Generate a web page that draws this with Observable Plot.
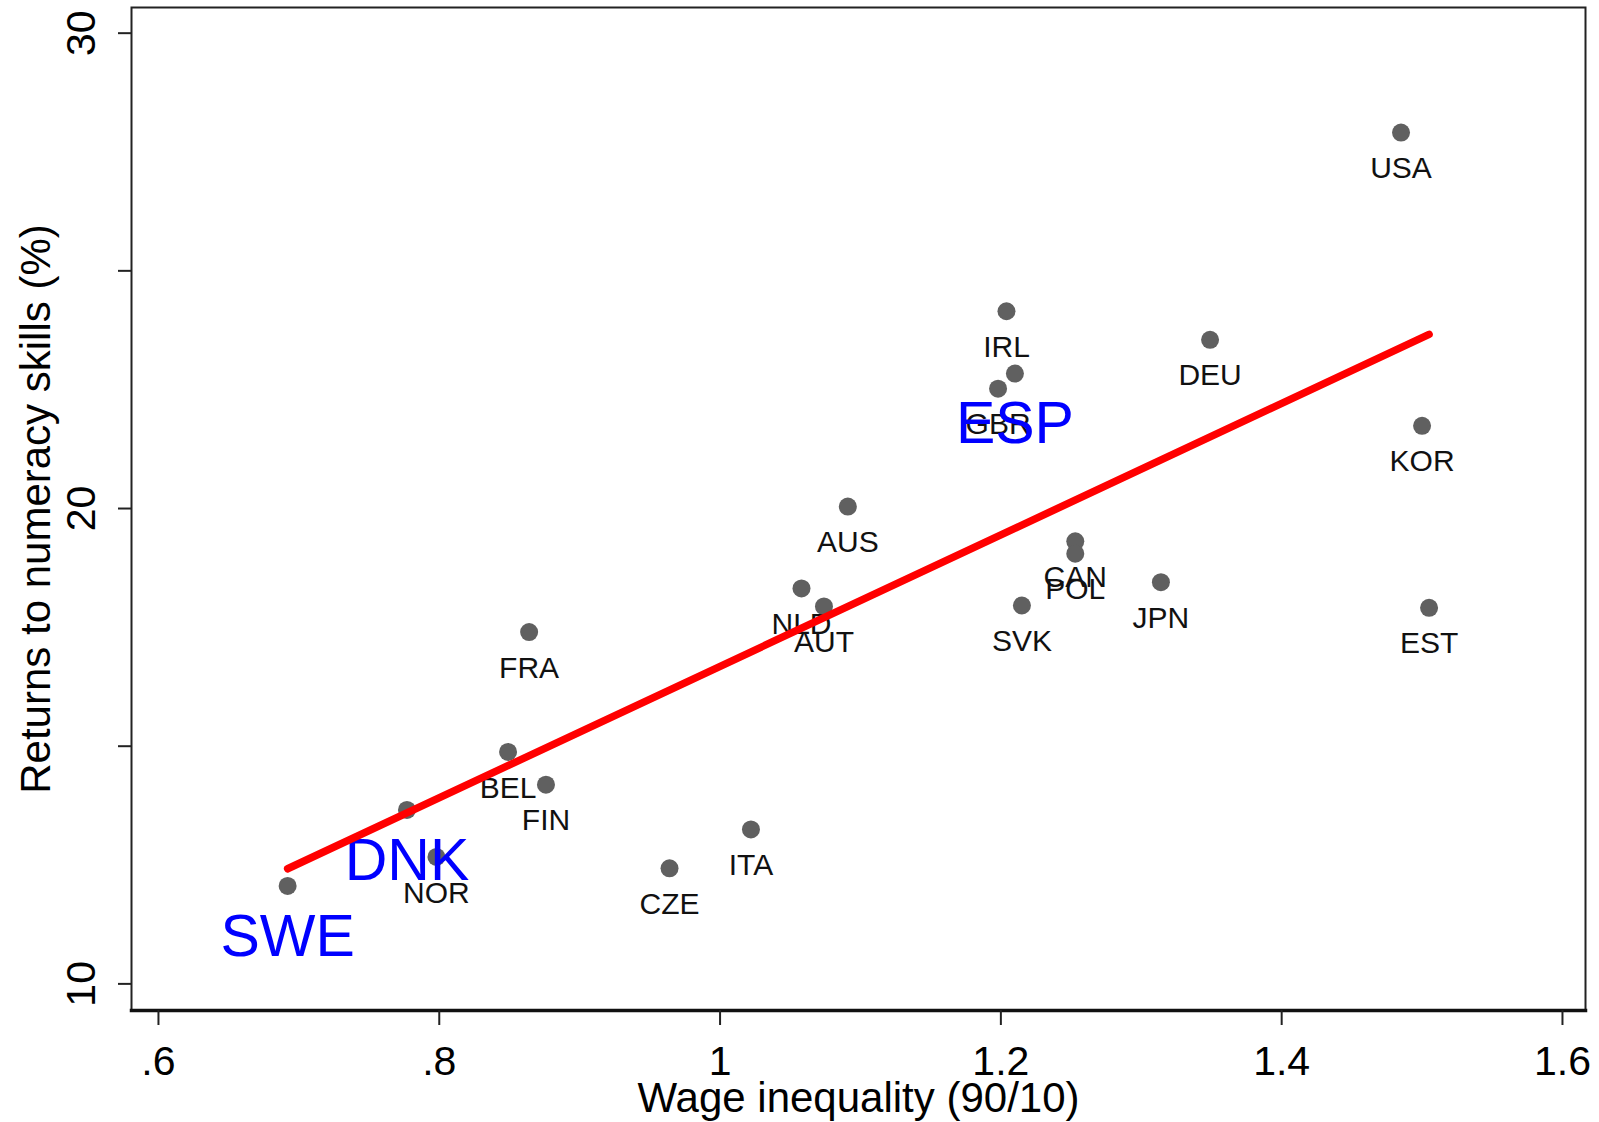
<!DOCTYPE html>
<html>
<head>
<meta charset="utf-8">
<script src="https://cdn.jsdelivr.net/npm/d3@7"></script>
<script src="https://cdn.jsdelivr.net/npm/@observablehq/plot@0.6"></script>
<style>
  html, body { margin: 0; padding: 0; background: #fff; overflow: hidden; }
  #chart svg { display: block; max-width: none; font-family: "Liberation Sans", Arial, sans-serif; }
</style>
</head>
<body>
<div id="chart"></div>
<script>
const countries = ["SWE","DNK","NOR","BEL","FIN","FRA","CZE","ITA","NLD","AUT","AUS","IRL","ESP","GBR","CAN","POL","SVK","JPN","DEU","KOR","EST","USA"];
const wageInequality = [0.692,0.777,0.798,0.849,0.876,0.864,0.964,1.022,1.058,1.074,1.091,1.204,1.210,1.198,1.253,1.253,1.215,1.314,1.349,1.500,1.505,1.485];
const returnsNumeracy = [12.06,13.66,12.67,14.88,14.19,17.40,12.43,13.25,18.32,17.94,20.04,24.15,22.84,22.52,19.31,19.05,17.96,18.45,23.55,21.74,17.91,27.91];
const highlighted = ["SWE","DNK","ESP"];
const xTicks = [0.6, 0.8, 1.0, 1.2, 1.4, 1.6];
const yTicks = [10, 15, 20, 25, 30];
const yTickLabels = [10, 20, 30];
const xTitle = "Wage inequality (90/10)";
const yTitle = "Returns to numeracy skills (%)";

const data = countries.map((c, i) => ({country: c, x: wageInequality[i], y: returnsNumeracy[i], big: highlighted.includes(c)}));
const fmtX = d => String(+d.toFixed(1)).replace(/^0\./, ".");

const chart = Plot.plot({
  width: 1599,
  height: 1122,
  marginLeft: 131,
  marginRight: 14,
  marginTop: 7,
  marginBottom: 112,
  style: {fontFamily: "'Liberation Sans', Arial, sans-serif", background: "#fff"},
  x: {domain: [0.5808, 1.6164]},
  y: {domain: [9.44, 30.54]},
  marks: [
    Plot.frame({stroke: "#222", strokeWidth: 2}),
    Plot.frame({anchor: "bottom", stroke: "#111", strokeWidth: 3.5}),
    Plot.axisX({ticks: xTicks, tickSize: 15, tickPadding: 20, tickFormat: fmtX, fontSize: 41, label: null, stroke: "#222", strokeWidth: 2, fill: "#000"}),
    Plot.axisY({ticks: yTicks, tickSize: 13, tickFormat: () => "", label: null, stroke: "#222", strokeWidth: 2}),
    Plot.text(yTickLabels, {y: d => d, text: d => String(d), frameAnchor: "left", textAnchor: "middle", lineAnchor: "middle", dx: -50, rotate: -90, fontSize: 41, fill: "#000"}),
    Plot.text([xTitle], {frameAnchor: "bottom", textAnchor: "middle", lineAnchor: "middle", dy: 88, fontSize: 42, fill: "#000"}),
    Plot.text([yTitle], {frameAnchor: "left", textAnchor: "middle", lineAnchor: "middle", dx: -95, rotate: -90, fontSize: 42, fill: "#000"}),
    Plot.dot(data, {x: "x", y: "y", r: 9, fill: "#606060", stroke: "none"}),
    Plot.text(data.filter(d => !d.big), {x: "x", y: "y", text: "country", dy: 36, fontSize: 30, fill: "#111"}),
    Plot.text(data.filter(d => d.big), {x: "x", y: "y", text: "country", dy: 51, fontSize: 59, fill: "#0000ff"}),
    Plot.linearRegressionY(data, {x: "x", y: "y", stroke: "#ff0000", strokeWidth: 7.5, ci: 0})
  ]
});
document.getElementById("chart").appendChild(chart);
</script>
</body>
</html>
